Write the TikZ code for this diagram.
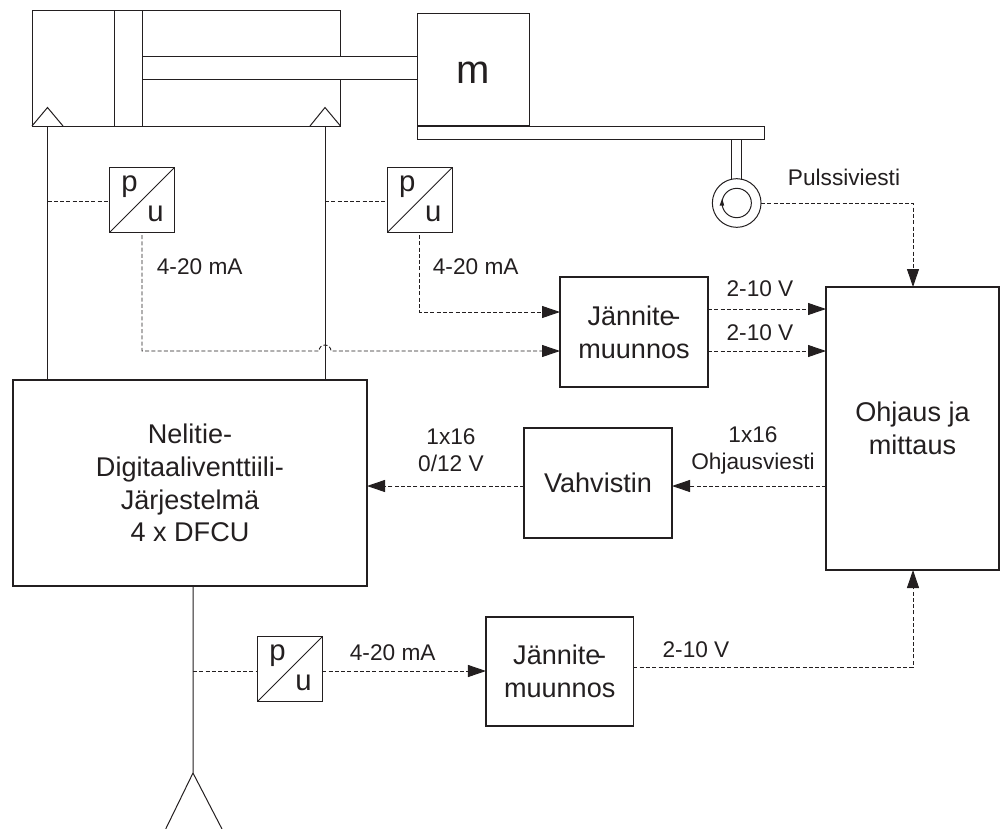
\documentclass[tikz,border=0pt]{standalone}
\usepackage{fontspec}
\setmainfont{Liberation Sans}
\usetikzlibrary{arrows.meta}
\definecolor{ink}{HTML}{231F20}
\tikzset{
 x=0.75pt,y=-0.75pt,
 every node/.style={text=ink,outer sep=0pt},
 ln/.style={draw=ink,line width=0.75pt},
 dsh/.style={draw=ink,line width=0.7pt,dash pattern=on 3pt off 1.7pt},
 arr/.style={dsh,-{Triangle[length=13.5pt,width=9pt,ink]}},
 bx/.style={draw=ink,line width=1pt,inner sep=0pt,align=center,font=\fontsize{20.3}{24.6}\selectfont},
 pubox/.style={draw=ink,line width=0.75pt,inner sep=0pt,minimum width=48.5pt,minimum height=48.5pt},
 lab/.style={font=\fontsize{17}{20.3}\selectfont,inner sep=0pt,align=center},
 letter/.style={font=\fontsize{22}{24}\selectfont,inner sep=0pt},
}
\begin{document}
\begin{tikzpicture}
\useasboundingbox (0,0) rectangle (1001,829);
% cylinder
\node[ln,inner sep=0pt,minimum width=231.5pt,minimum height=87pt,anchor=north west] (cyl) at (32,10) {};
\node[ln,inner sep=0pt,minimum width=21pt,minimum height=87pt,anchor=north west] (piston) at (114.5,10) {};
\node[ln,inner sep=0pt,minimum width=84.5pt,minimum height=84.5pt,anchor=north west] (mass) at (417,13.3) {};
\node[inner sep=0pt,font=\fontsize{30}{32}\selectfont] (mlabel) at (473.5,72.5) {m};
\draw[white,line width=1.5pt] (cyl.east |- 0,57.4) -- (cyl.east |- 0,78.9);
\draw[ln] (piston.east |- 0,56.7) -- (mass.west |- 0,56.7) (piston.east |- 0,79.7) -- (mass.west |- 0,79.7);
\node[ln,inner sep=0pt,minimum width=260.25pt,minimum height=9.75pt,anchor=north west] (beam) at (417,126) {};
% ports
\coordinate (pl) at (47.5,107.5);
\coordinate (pr) at (325,107.5);
\draw[ln] (32,126) -- (pl) -- (63,126);
\draw[ln] (310,126) -- (pr) -- (340.5,126);
% sensor
\node[circle,ln,inner sep=0pt,minimum size=36.5pt] (enc) at (736.7,203) {};
\node[circle,ln,inner sep=0pt,minimum size=22pt] (encin) at (736.7,203) {};
\draw[ln] (731.7,139) -- (731.7,179.5) (741.7,139) -- (741.7,179.5);
\fill[ink] (719.6,205.5) -- (722.2,198.5) -- (724.2,205.5) -- cycle;
% pu boxes
\foreach \n/\x/\y in {pa/142/200,pb/419.7/200,pc/290/669}{
 \node[pubox] (\n) at (\x,\y) {};
 \draw[ln] (\n.south west) -- (\n.north east);
 \node[letter] (\n p) at (\x-12.5,\y-13.5) {p};
 \node[letter] (\n u) at (\x+13.5,\y+14) {u};
}
% main blocks
\node[bx,minimum width=265.5pt,minimum height=154.5pt] (dfcu) at (190,483) {Nelitie-\\Digitaaliventtiili-\\Järjestelmä\\4 x DFCU};
\node[bx,minimum width=111pt,minimum height=82.5pt] (jm1) at (634,332) {Jännite\kern-2.5pt-\\muunnos};
\node[bx,minimum width=129.75pt,minimum height=212.25pt] (ctrl) at (912.5,428.5) {Ohjaus ja\\mittaus};
\node[bx,minimum width=111pt,minimum height=82.5pt] (amp) at (598,483) {Vahvistin};
\node[bx,minimum width=110.6pt,minimum height=81.75pt] (jm2) at (559.7,671.5) {Jännite\kern-2.5pt-\\muunnos};
% hydraulics
\draw[ln] (pl |- 0,126) -- (pl |- dfcu.north);
\draw[ln] (pr |- 0,126) -- (pr |- dfcu.north);
\coordinate (fork) at (193,773);
\coordinate (forkl) at (165.7,829);
\coordinate (forkr) at (222,829);
\draw[ln] (fork |- dfcu.south) -- (fork) (forkl) -- (fork) -- (forkr);
% tap lines
\draw[dsh] (pl |- 0,201) -- (pa.west |- 0,201);
\draw[dsh] (pr |- 0,201) -- (pb.west |- 0,201);
\draw[dsh] (fork |- 0,671) -- (pc.west |- 0,671);
% signals
\coordinate (ay) at (0,351);
\coordinate (by) at (0,312);
\draw[arr] ([yshift=-2pt]pa.south) -- (pa.south |- ay) -- (319,351) arc[start angle=180,end angle=360,radius=6] -- (jm1.west |- ay);
\draw[arr] ([yshift=-2pt]pb.south) -- (pb.south |- by) -- (jm1.west |- by);
\draw[arr] (jm1.east |- 0,309) -- (ctrl.west |- 0,309);
\draw[arr] (jm1.east |- 0,351) -- (ctrl.west |- 0,351);
\draw[arr] (ctrl.west |- 0,486) -- (amp.east |- 0,486);
\draw[arr] (amp.west |- 0,486) -- (dfcu.east |- 0,486);
\draw[arr] (pc.east |- 0,671) -- (jm2.west |- 0,671);
\coordinate (cx) at (913,0);
\draw[arr] (jm2.east |- 0,667) -- (cx |- 0,667) -- (cx |- ctrl.south);
\draw[arr] (enc.east) -- (cx |- enc.east) -- (cx |- ctrl.north);
% labels
\node[lab] (l1) at (844,177) {Pulssiviesti};
\node[lab] (l2) at (199.7,266.7) {4-20 mA};
\node[lab] (l3) at (475.7,266.7) {4-20 mA};
\node[lab] (l4) at (760,289) {2-10 V};
\node[lab] (l5) at (760,333) {2-10 V};
\node[lab] (l6) at (451,450.5) {1x16\\0/12 V};
\node[lab] (l7) at (753,450.5) {1x16\\Ohjausviesti};
\node[lab] (l8) at (392.7,653) {4-20 mA};
\node[lab] (l9) at (696,650) {2-10 V};
\end{tikzpicture}
\end{document}
